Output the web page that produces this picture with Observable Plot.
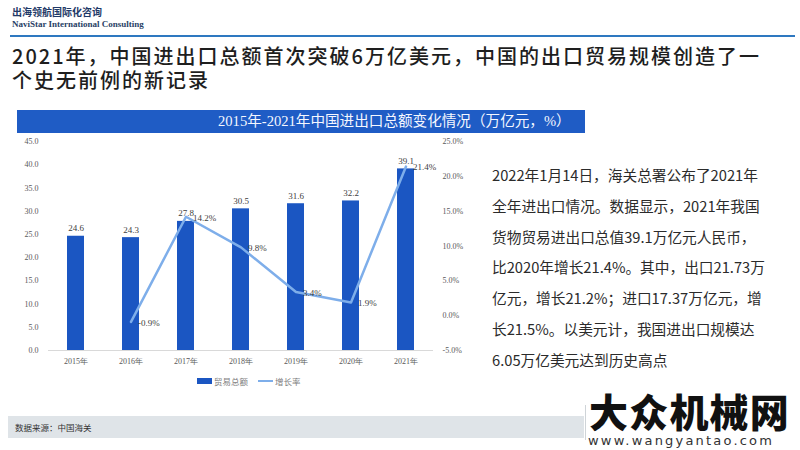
<!DOCTYPE html>
<html>
<head>
<meta charset="utf-8">
<script src="https://cdn.jsdelivr.net/npm/d3@7"></script>
<script src="https://cdn.jsdelivr.net/npm/@observablehq/plot@0.6"></script>
<style>
  html, body { margin: 0; padding: 0; background: #fff; }
  #page { position: relative; width: 800px; height: 450px; overflow: hidden; background: #fff; font-family: "Noto Sans CJK SC", "Noto Sans", sans-serif; }
  .abs { position: absolute; white-space: nowrap; }
  #logo1 { left: 12px; top: 6px; font-size: 10px; font-weight: 700; color: #1f3a68; line-height: 12px; }
  #logo2 { left: 12px; top: 19px; font-size: 9px; font-weight: 700; color: #2a3f66; font-family: "Liberation Serif", serif; line-height: 10px; }
  #hline { left: 10px; top: 35px; width: 785px; height: 2px; background: #2e78c0; }
  .title { left: 12px; font-size: 20px; color: #1e1e1e; line-height: 21px; height: 21px; letter-spacing: 2px; font-weight: 500; }
  #title1 { top: 45px; }
  #title2 { top: 69px; }
  #banner { left: 17px; top: 110px; width: 568px; height: 23px; background: #1f5cc5; }
  #bannerText { left: 218px; top: 110px; font-size: 14.6px; line-height: 23px; color: #f4f7ff; font-family: "Liberation Serif", "Noto Sans CJK SC", serif; }
  #chart { left: 0px; top: 130px; }
  #legend { left: 197px; top: 376px; font-size: 8.5px; color: #808080; display: flex; align-items: center; line-height: 10px; }
  #para { left: 492px; top: 160px; font-size: 14.7px; line-height: 30.8px; color: #2b2b2b; white-space: nowrap; }
  #footer { left: 8px; top: 416px; width: 576px; height: 22px; background: #dfe4e8; }
  #footerText { left: 15px; top: 416px; font-size: 8.5px; line-height: 22px; color: #333; }
  #vline { left: 585px; top: 405px; width: 1px; height: 35px; background: #cfd4d8; }
  #wm1 { left: 589px; top: 391px; font-size: 39px; font-weight: 900; color: #111; line-height: 38px; height: 38px; letter-spacing: 1.2px; text-shadow: 0 0 3px #fff, 0 0 3px #fff; }
  #wm2 { left: 588px; top: 434px; font-size: 13px; color: #333; line-height: 14px; letter-spacing: 2.2px; font-family: "DejaVu Sans", sans-serif; }
</style>
</head>
<body>
<div id="page">
  <div class="abs" id="logo1">出海领航国际化咨询</div>
  <div class="abs" id="logo2">NaviStar International Consulting</div>
  <div class="abs" id="hline"></div>
  <div class="abs title" id="title1">2021年，中国进出口总额首次突破6万亿美元，中国的出口贸易规模创造了一</div>
  <div class="abs title" id="title2">个史无前例的新记录</div>
  <div class="abs" id="banner"></div>
  <div class="abs" id="bannerText">2015年-2021年中国进出口总额变化情况（万亿元，%）</div>
  <div class="abs" id="chart"></div>
  <div class="abs" id="legend">
    <span style="display:inline-block;width:15px;height:6px;background:#1b56c2;margin-right:2px;"></span><span>贸易总额</span>
    <span style="display:inline-block;width:15px;height:2px;background:#7eaeea;margin-left:10px;margin-right:2px;"></span><span>增长率</span>
  </div>
  <div class="abs" id="para">2022年1月14日，海关总署公布了2021年<br>全年进出口情况。数据显示，2021年我国<br>货物贸易进出口总值39.1万亿元人民币，<br>比2020年增长21.4%。其中，出口21.73万<br>亿元，增长21.2%；进口17.37万亿元，增<br>长21.5%。以美元计，我国进出口规模达<br>6.05万亿美元达到历史高点</div>
  <div class="abs" id="footer"></div>
  <div class="abs" id="footerText">数据来源：中国海关</div>
  <div class="abs" id="vline"></div>
  <div class="abs" id="wm1">大众机械网</div>
  <div class="abs" id="wm2">www.wangyantao.com</div>
</div>
<script>
const years = ["2015年", "2016年", "2017年", "2018年", "2019年", "2020年", "2021年"];
const totals = [24.6, 24.3, 27.8, 30.5, 31.6, 32.2, 39.1];
const growth = [null, -0.9, 14.2, 9.8, 3.4, 1.9, 21.4];
const leftTicks = [0, 5, 10, 15, 20, 25, 30, 35, 40, 45];
const rightTicks = [-5, 0, 5, 10, 15, 20, 25];

// map percentage (right axis, -5..25) onto the left scale (0..45)
const toLeft = p => (p + 5) * 1.5;
const fromLeft = v => v / 1.5 - 5;

const bars = years.map((y, i) => ({year: y, total: totals[i]}));
const rates = years.map((y, i) => ({year: y, g: growth[i]})).filter(d => d.g !== null);

const chart = Plot.plot({
  width: 480,
  height: 245,
  marginLeft: 48,
  marginRight: 47,
  marginTop: 11,
  marginBottom: 25,
  style: {fontFamily: "Liberation Serif, serif", fontSize: "8px", color: "#595959", background: "transparent"},
  x: {type: "band", domain: years, paddingInner: 0.69, paddingOuter: 0.345, label: null},
  y: {domain: [0, 45], label: null},
  marks: [
    Plot.barY(bars, {x: "year", y: "total", fill: "#1b56c2"}),
    Plot.ruleY([0], {stroke: "#d9d9d9", strokeWidth: 1}),
    Plot.text(bars, {x: "year", y: "total", text: d => d.total.toFixed(1), dy: -8, fontSize: 9, fill: "#404040"}),
    Plot.line(rates, {x: "year", y: d => toLeft(d.g), stroke: "#7eaeea", strokeWidth: 2.5, strokeLinejoin: "round", strokeLinecap: "round"}),
    Plot.text(rates, {x: "year", y: d => toLeft(d.g), text: d => d.g.toFixed(1) + "%", dx: 7, dy: 1, textAnchor: "start", fontSize: 9, fill: "#404040"}),
    Plot.axisY(leftTicks, {anchor: "left", tickSize: 0, tickPadding: 10, tickFormat: d => d.toFixed(1), label: null, fill: "#595959"}),
    Plot.axisY(rightTicks.map(toLeft), {anchor: "right", tickSize: 0, tickPadding: 9, tickFormat: v => fromLeft(v).toFixed(1) + "%", label: null, fill: "#595959"}),
    Plot.axisX({tickSize: 0, tickPadding: 8, label: null, fill: "#595959"})
  ]
});
document.getElementById("chart").appendChild(chart);
</script>
</body>
</html>
